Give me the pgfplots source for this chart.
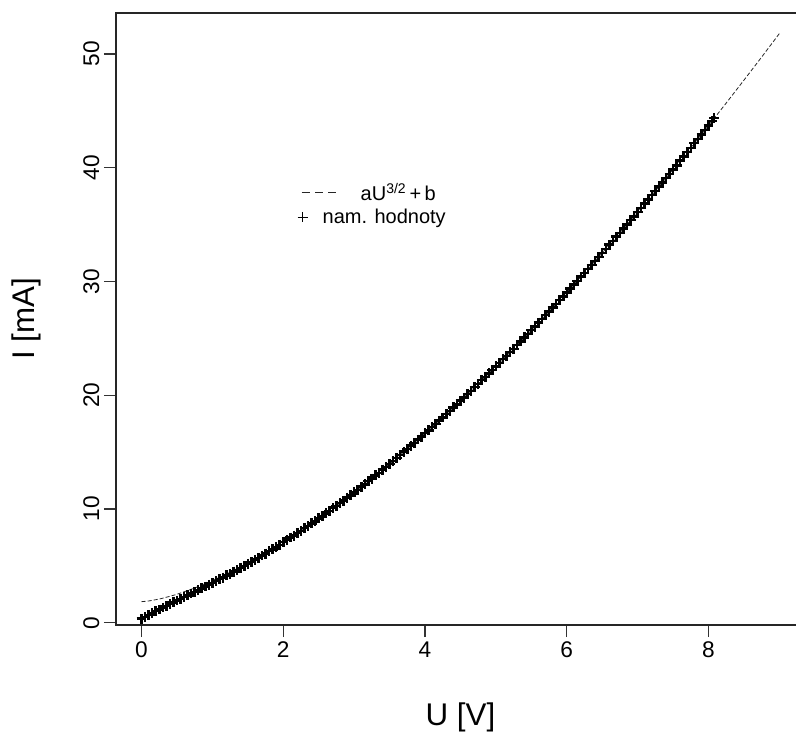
\documentclass[border=0pt]{standalone}
\usepackage{fontspec}
\setmainfont{Liberation Sans}
\usepackage{pgfplots}
\pgfplotsset{compat=1.18}

% measured U [V] vs I [mA]
\pgfplotstableread{
U    I
0.00 0.35
0.05 0.50
0.10 0.69
0.15 0.84
0.20 1.02
0.25 1.16
0.30 1.34
0.35 1.48
0.40 1.65
0.45 1.79
0.50 1.96
0.55 2.10
0.60 2.27
0.65 2.40
0.70 2.57
0.75 2.71
0.80 2.88
0.85 3.02
0.90 3.19
0.95 3.33
1.00 3.51
1.05 3.65
1.10 3.83
1.15 3.97
1.20 4.16
1.25 4.30
1.30 4.49
1.35 4.64
1.40 4.83
1.45 4.99
1.50 5.18
1.55 5.34
1.60 5.54
1.65 5.71
1.70 5.91
1.75 6.08
1.80 6.29
1.85 6.46
1.90 6.67
1.95 6.85
2.00 7.09
2.05 7.26
2.10 7.49
2.15 7.66
2.20 7.90
2.25 8.07
2.30 8.31
2.35 8.50
2.40 8.74
2.45 8.92
2.50 9.17
2.55 9.36
2.60 9.62
2.65 9.81
2.70 10.07
2.75 10.27
2.80 10.53
2.85 10.73
2.90 11.00
2.95 11.20
3.00 11.47
3.05 11.68
3.10 11.96
3.15 12.17
3.20 12.45
3.25 12.67
3.30 12.95
3.35 13.17
3.40 13.46
3.45 13.69
3.50 13.97
3.55 14.20
3.60 14.50
3.65 14.73
3.70 15.03
3.75 15.26
3.80 15.56
3.85 15.81
3.90 16.11
3.95 16.35
4.00 16.66
4.05 16.91
4.10 17.22
4.15 17.47
4.20 17.78
4.25 18.04
4.30 18.36
4.35 18.61
4.40 18.93
4.45 19.20
4.50 19.52
4.55 19.79
4.60 20.11
4.65 20.38
4.70 20.71
4.75 20.98
4.80 21.32
4.85 21.59
4.90 21.93
4.95 22.20
5.00 22.54
5.05 22.83
5.10 23.17
5.15 23.45
5.20 23.80
5.25 24.08
5.30 24.43
5.35 24.72
5.40 25.08
5.45 25.37
5.50 25.72
5.55 26.02
5.60 26.38
5.65 26.68
5.70 27.04
5.75 27.34
5.80 27.70
5.85 28.01
5.90 28.37
5.95 28.68
6.00 29.05
6.05 29.36
6.10 29.73
6.15 30.05
6.20 30.42
6.25 30.74
6.30 31.11
6.35 31.43
6.40 31.81
6.45 32.13
6.50 32.52
6.55 32.84
6.60 33.23
6.65 33.56
6.70 33.94
6.75 34.27
6.80 34.66
6.85 35.00
6.90 35.39
6.95 35.73
7.00 36.12
7.05 36.46
7.10 36.86
7.15 37.20
7.20 37.60
7.25 37.94
7.30 38.35
7.35 38.69
7.40 39.10
7.45 39.45
7.50 39.86
7.55 40.21
7.60 40.62
7.65 40.97
7.70 41.39
7.75 41.74
7.80 42.16
7.85 42.52
7.90 42.94
7.95 43.30
8.00 43.73
8.05 44.10
8.08 44.38
}\meas

% fitted curve aU^{3/2}+b
\pgfplotstableread{
U    I
0.00 1.85
0.10 1.91
0.25 2.08
0.40 2.32
0.50 2.50
0.75 3.05
1.00 3.70
1.25 4.44
1.50 5.25
1.75 6.13
2.00 7.08
2.25 8.09
2.50 9.16
2.75 10.29
3.00 11.46
3.25 12.69
3.50 13.96
3.75 15.28
4.00 16.65
4.25 18.06
4.50 19.51
4.75 21.00
5.00 22.53
5.25 24.10
5.50 25.71
5.75 27.36
6.00 29.04
6.25 30.76
6.50 32.51
6.75 34.29
7.00 36.11
7.25 37.96
7.50 39.85
7.75 41.76
8.00 43.71
8.25 45.69
8.50 47.70
8.75 49.73
9.00 51.80
}\fit

\begin{document}
\begin{tikzpicture}
\begin{axis}[
  at={(0,0)}, anchor=south west,
  scale only axis, width=516.7pt, height=459pt,
  xmin=-0.36, xmax=9.36, ymin=-0.2, ymax=53.6,
  xtick={0,2,4,6,8}, ytick={0,10,20,30,40,50},
  xtick pos=left, ytick pos=left,
  tick align=outside, major tick length=9pt,
  axis line style={black!85, line width=0.9pt},
  tick style={black!80, line width=0.9pt},
  /pgf/number format/assume math mode=true,
  ticklabel style={font=\fontsize{17}{20}\selectfont},
  yticklabel style={rotate=90, anchor=south},
  every axis x label/.style={at={(axis description cs:0.5,0)}, anchor=base, yshift=-75pt},
  every axis y label/.style={at={(axis description cs:0,0.5)}, xshift=-60.75pt, rotate=90, anchor=base},
  label style={font=\fontsize{23.5}{26}\selectfont},
  xlabel={U [V]}, ylabel={I [mA]},
  legend style={draw=none, fill=none, inner sep=0pt,
    at={(axis cs:2.2,36.8)}, anchor=west,
    font=\fontsize{15}{18}\selectfont,
    nodes={inner sep=0pt, anchor=west},
    /tikz/every odd column/.append style={column sep=11.25pt},
    row sep=5pt},
  legend cell align=left,
]
\addplot[black!85, line width=0.6pt, dash pattern=on 3pt off 1.6pt,
  legend image code/.code={\draw[overlay, dash pattern=on 6pt off 4pt] (3pt,0pt) -- (30pt,0pt); \path[draw=none, fill=none] (0pt,-3.75pt) rectangle (7.5pt,3.75pt);}]
  table[x=U, y=I] {\fit};
\addlegendentry{\hspace*{28.5pt}aU\textsuperscript{3/2}\,+\,b}
\addplot[only marks, mark=+, mark size=3.7pt, black, line width=1.9pt,
  legend image code/.code={\draw[mark repeat=1, mark phase=1, mark size=3.75pt, line width=0.6pt] plot coordinates {(3.75pt,0pt)};}]
  table[x=U, y=I] {\meas};
\addlegendentry{nam. hodnoty}
\end{axis}
\pgfresetboundingbox
\path[use as bounding box] (-87pt,-81pt) rectangle (510pt,468.75pt);
\end{tikzpicture}
\end{document}
